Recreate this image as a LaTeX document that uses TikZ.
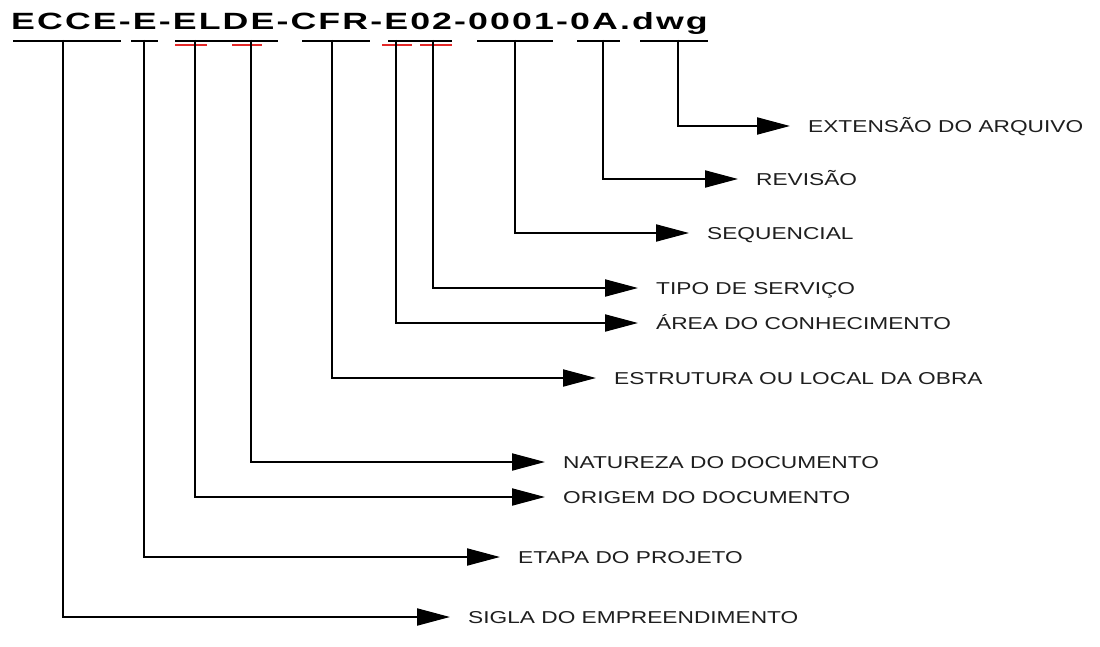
\documentclass[tikz,border=0pt]{standalone}
\usepackage{fontspec}
\usetikzlibrary{arrows.meta}
\newfontfamily\codefont[FakeStretch=1.52,LetterSpace=9]{Liberation Sans}
\newfontfamily\lblfont[FakeStretch=1.32]{Liberation Sans}
\definecolor{redmark}{RGB}{228,40,40}
\definecolor{lbltext}{RGB}{30,30,30}
\tikzset{
  uline/.style={line width=2pt},
  redline/.style={line width=2pt, redmark},
  conn/.style={line width=2pt, -{Triangle[length=33pt,width=17pt]}},
  lbl/.style={anchor=west, inner xsep=18pt, inner ysep=0pt, text height=12.3pt, text depth=0pt,
    text=lbltext, font=\lblfont\fontsize{17.2}{20}\selectfont}
}

\begin{document}
\begin{tikzpicture}[x=1pt,y=-1pt]
    \useasboundingbox (0,0) rectangle (1100,647);

    \node[anchor=base west, inner sep=0pt, font=\codefont\bfseries\fontsize{23.5}{27}\selectfont] (code) at (11,30) {ECCE-E-ELDE-CFR-E02-0001-0A.dwg};

    \foreach \a/\b in {13/121, 131/158, 175/278, 302/370, 388/452, 477/553, 577/620, 640/708}
        \draw[uline] (\a,41) -- (\b,41);
    \foreach \a/\b in {175/207, 232/262, 382/412, 420/452}
        \draw[redline] (\a,45) -- (\b,45);

    \foreach \nm/\x/\y/\tip/\txt in {
        sigla/63/617/450/SIGLA DO EMPREENDIMENTO,
        etapa/144/557/500/ETAPA DO PROJETO,
        origem/195/497/545/ORIGEM DO DOCUMENTO,
        natureza/251/462/545/NATUREZA DO DOCUMENTO,
        estrutura/332/378/596/ESTRUTURA OU LOCAL DA OBRA,
        area/396/323/638/ÁREA DO CONHECIMENTO,
        tipo/433/288/638/TIPO DE SERVIÇO,
        seq/515/233/689/SEQUENCIAL,
        rev/603/179/738/REVISÃO,
        ext/678/126/790/EXTENSÃO DO ARQUIVO}
    {
        \coordinate (\nm-top) at (\x,40);
        \node[lbl] (\nm) at (\tip,\y) {\txt};
        \draw[conn] (\nm-top) |- (\nm);
    }
\end{tikzpicture}
\end{document}
